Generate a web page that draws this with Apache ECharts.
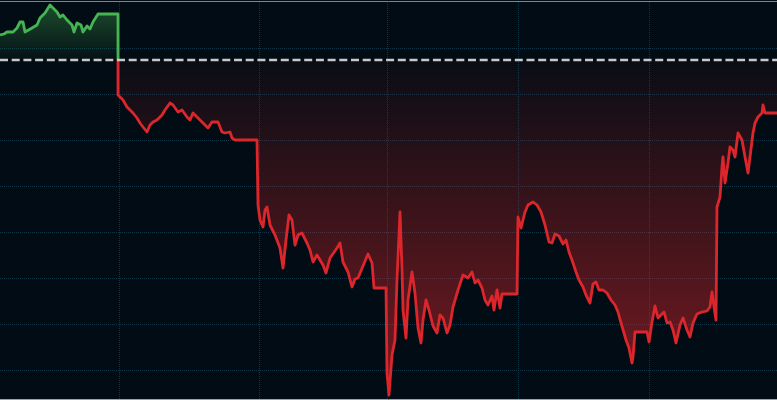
<!DOCTYPE html>
<html>
<head>
<meta charset="utf-8">
<script src="https://cdn.jsdelivr.net/npm/echarts@6/dist/echarts.min.js"></script>
<style>
html,body{margin:0;padding:0;background:#020c14;}
#chart{width:777px;height:400px;}
</style>
</head>
<body>
<div id="chart"></div>
<script>
// ---- data (time index, price) ----
const prevClose = 50.00;
const times = [
  0,4,7,13,17,20,23,25,27,32,37,40,45,50,53,57,60,63,67,72,74,77,81,83,87,90,93,98,100,118,
  118,120,123,127,130,133,137,140,143,147,150,153,157,162,165,170,173,178,182,187,190,193,198,203,208,212,218,222,225,230,232,235,257,
  258,260,263,265,267,270,275,280,283,286,289,292,295,298,302,307,310,313,317,320,323,326,330,337,340,343,348,352,355,358,363,368,372,374,386,
  387,389,392,395,397,400,402,403,406,408,412,415,418,421,423,426,429,433,437,440,443,447,450,453,458,463,468,472,475,478,482,485,488,492,494,497,500,502,517,
  518,521,525,528,533,537,541,545,549,552,555,559,563,566,569,572,576,579,583,586,590,593,596,599,603,607,611,615,618,621,624,626,629,632,633,635,647,
  649,652,655,658,661,664,667,670,673,676,680,683,687,690,693,697,702,707,710,712,714,716,
  717,720,722,723,725,728,730,733,735,738,742,745,748,750,753,755,758,762,763,765,777
];
const prices = [
  50.25,50.26,50.28,50.28,50.32,50.38,50.38,50.28,50.27,50.32,50.35,50.42,50.47,50.55,50.52,50.48,50.43,50.45,50.40,50.35,50.28,50.37,50.35,50.28,50.34,50.31,50.38,50.46,50.47,50.46,
  49.65,49.63,49.60,49.53,49.50,49.47,49.42,49.37,49.33,49.28,49.35,49.38,49.40,49.45,49.50,49.57,49.55,49.48,49.50,49.43,49.40,49.47,49.42,49.37,49.32,49.38,49.38,49.28,49.27,49.28,49.22,49.20,49.20,
  48.55,48.40,48.33,48.50,48.53,48.35,48.25,48.12,47.92,48.20,48.45,48.40,48.15,48.25,48.27,48.17,48.10,47.98,48.05,48.00,47.95,47.87,48.02,48.12,48.17,47.98,47.88,47.73,47.81,47.82,47.94,48.06,47.97,47.72,47.72,
  46.87,46.65,47.05,47.20,47.80,48.48,47.90,47.50,47.22,47.60,47.88,47.67,47.32,47.17,47.40,47.60,47.50,47.34,47.27,47.45,47.42,47.27,47.35,47.53,47.70,47.85,47.82,47.88,47.77,47.80,47.72,47.60,47.55,47.64,47.50,47.70,47.52,47.66,47.66,
  48.43,48.32,48.48,48.55,48.58,48.55,48.48,48.35,48.18,48.17,48.26,48.24,48.16,48.20,48.08,48.00,47.88,47.80,47.73,47.65,47.57,47.76,47.78,47.70,47.70,47.67,47.60,47.55,47.48,47.37,47.27,47.20,47.12,46.97,47.03,47.28,47.28,
  47.18,47.38,47.54,47.42,47.45,47.48,47.37,47.38,47.30,47.17,47.35,47.42,47.30,47.23,47.37,47.46,47.48,47.49,47.53,47.68,47.53,47.40,
  48.53,48.63,48.93,49.03,48.77,48.97,49.13,49.10,49.03,49.27,49.20,49.03,48.87,49.03,49.27,49.37,49.43,49.47,49.55,49.47,49.47
];
// gridline positions (time index / price level)
const sessionMarks = [119, 259, 387, 518, 649];
const priceLevels = [50.12, 49.66, 49.20, 48.74, 48.28, 47.82, 47.36, 46.90];
const xRange = [0, 777];
const yRange = [46.61, 50.59];

// ---- split into above / below previous close ----
const above = [], below = [];
let crossed = false;
for (let i = 0; i < times.length; i++) {
  const p = prices[i];
  if (!crossed && p < prevClose) {
    crossed = true;
    const t0 = times[i-1], p0 = prices[i-1];
    const tc = t0 + (times[i]-t0) * (p0 - prevClose) / (p0 - p);
    above.push([tc, prevClose]);
    below.push([tc, prevClose]);
  }
  (crossed ? below : above).push([times[i], p]);
}

const GREEN = '#45b554', RED = '#dc262c', GRIDC = '#0f3548';
const chart = echarts.init(document.getElementById('chart'), null, {renderer: 'canvas'});
chart.setOption({
  backgroundColor: '#020c14',
  animation: false,
  grid: {left: 0, right: 0, top: 1, bottom: 1, containLabel: false},
  xAxis: [
    {type: 'value', min: xRange[0], max: xRange[1], position: 'bottom',
     axisLine: {show: true, lineStyle: {color: '#9aa1a8', width: 1}},
     axisTick: {show: false}, axisLabel: {show: false}, splitLine: {show: false}},
    {type: 'value', min: xRange[0], max: xRange[1], position: 'top',
     axisLine: {show: true, lineStyle: {color: '#7d868e', width: 1}},
     axisTick: {show: false}, axisLabel: {show: false}, splitLine: {show: false}}
  ],
  yAxis: {type: 'value', min: yRange[0], max: yRange[1],
    axisLine: {show: false}, axisTick: {show: false}, axisLabel: {show: false}, splitLine: {show: false}},
  series: [
    {
      name: 'grid', type: 'line', data: [], z: 1, silent: true, symbol: 'none',
      markLine: {
        z: 1, silent: true, symbol: ['none', 'none'], label: {show: false},
        lineStyle: {color: GRIDC, type: 'dotted', width: 1},
        emphasis: {disabled: true},
        data: sessionMarks.map(v => ({xAxis: v})).concat(priceLevels.map(v => ({yAxis: v})))
      }
    },
    {
      name: 'up', type: 'line', data: above, symbol: 'none', z: 3,
      lineStyle: {color: GREEN, width: 2.8, join: 'round'},
      areaStyle: {origin: prevClose, color: new echarts.graphic.LinearGradient(0, 0, 0, 1, [
        {offset: 0, color: 'rgba(69,181,84,0.55)'},
        {offset: 1, color: 'rgba(69,181,84,0.04)'}])}
    },
    {
      name: 'down', type: 'line', data: below, symbol: 'none', z: 3,
      lineStyle: {color: RED, width: 2.8, join: 'round'},
      areaStyle: {origin: prevClose, color: new echarts.graphic.LinearGradient(0, 0, 0, 1, [
        {offset: 0, color: 'rgba(216,38,44,0.05)'},
        {offset: 1, color: 'rgba(216,38,44,0.78)'}])}
    },
    {
      name: 'prevClose', type: 'line', data: [[xRange[0], prevClose], [xRange[1], prevClose]],
      symbol: 'none', z: 10, silent: true,
      lineStyle: {color: '#c8c8c8', width: 2.5, type: [8, 3.7]}
    }
  ]
});
</script>
</body>
</html>
